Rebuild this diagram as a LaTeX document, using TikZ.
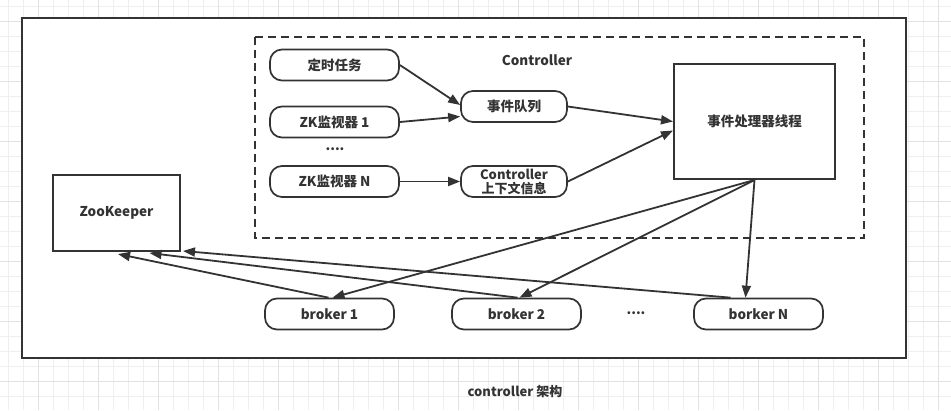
\documentclass[tikz,border=0pt]{standalone}
\usepackage{fontspec}
\setmainfont{Noto Sans CJK SC}
\usetikzlibrary{arrows.meta}

\definecolor{linegray}{HTML}{333333}
\definecolor{txtgray}{HTML}{333333}
\definecolor{gridlight}{HTML}{EFEFEF}
\definecolor{griddark}{HTML}{E2E2E2}

\tikzset{
  lbl/.style={font=\bfseries\fontsize{13.5}{15}\selectfont, text=txtgray},
  roundbox/.style={lbl, draw=linegray, line width=1.7pt, rounded corners=12pt,
    minimum width=129pt, minimum height=31pt, inner sep=0pt, align=center},
  smallbox/.style={roundbox, minimum width=106pt},
  squarebox/.style={lbl, draw=linegray, line width=2pt, inner sep=0pt},
  conn/.style={->, draw=linegray, line width=1.8pt},
}

\begin{document}
\begin{tikzpicture}[x=1pt, y=-1pt, >={Triangle[length=12pt,width=9pt]}]
  \useasboundingbox (0,0) rectangle (951,410);
  % grid paper
  \foreach \x in {8.3,23.3,...,951} \draw[gridlight, line width=0.8pt] (\x,0) -- (\x,410);
  \foreach \y in {6.7,21.7,...,410} \draw[gridlight, line width=0.8pt] (0,\y) -- (951,\y);
  \foreach \x in {38.3,98.3,...,951} \draw[griddark, line width=0.8pt] (\x,0) -- (\x,410);
  \foreach \y in {21.7,81.7,...,410} \draw[griddark, line width=0.8pt] (0,\y) -- (951,\y);

  % outer frame and controller area
  \draw[linegray, fill=white, line width=2pt] (22,18) rectangle (906,358);
  \draw[linegray, line width=1.8pt, dash pattern=on 8pt off 5pt] (255,37) rectangle (864,238);
  \node[lbl] (ctrl) at (537,60) {Controller};

  % controller parts
  \node[roundbox] (timer) at (334.5,65) {定时任务};
  \node[roundbox] (zk1) at (334.5,122) {ZK监视器 1};
  \node[lbl] (zkdots) at (335,149) {....};
  \node[roundbox] (zkn) at (334.5,181.5) {ZK监视器 N};
  \node[smallbox] (queue) at (514,106.5) {事件队列};
  \node[smallbox, font=\bfseries\fontsize{13}{14}\selectfont] (ctx) at (514,181.5) {Controller\\上下文信息};
  \node[squarebox, minimum width=161pt, minimum height=115pt] (handler) at (754.5,121.5) {事件处理器线程};

  % zookeeper and brokers
  \node[squarebox, minimum width=127pt, minimum height=76pt] (zk) at (116.5,213) {ZooKeeper};
  \node[roundbox] (broker1) at (329.5,314) {broker 1};
  \node[roundbox] (broker2) at (516.5,314) {broker 2};
  \node[lbl] (bdots) at (636,313) {....};
  \node[roundbox] (brokerN) at (758.5,314) {borker N};

  \node[lbl, font=\bfseries\fontsize{13}{15}\selectfont] (caption) at (515,392) {controller 架构};

  % connectors
  \draw[conn] (timer.east) -- ([yshift=1.5pt]queue.west);
  \draw[conn] (zk1.east) -- ([yshift=-10pt]queue.west);
  \draw[conn] (zkn.east) -- (ctx.west);
  \draw[conn] (queue.east) -- ([yshift=0pt]handler.west);
  \draw[conn] (ctx.east) -- ([yshift=-9pt]handler.west);
  \draw[conn] (handler.south) -- ([xshift=3pt]broker1.north);
  \draw[conn] (handler.south) -- ([xshift=3pt]broker2.north);
  \draw[conn] (handler.south) -- ([xshift=-13pt]brokerN.north);
  \draw[conn] ([xshift=-1pt]broker1.north) -- ([xshift=1.5pt,yshift=-2pt]zk.south);
  \draw[conn] ([xshift=1pt]broker2.north) -- ([xshift=33pt,yshift=-1pt]zk.south);
  \draw[conn] ([xshift=-28pt]brokerN.north) -- ([xshift=2pt,yshift=1pt]zk.south east);
\end{tikzpicture}
\end{document}
